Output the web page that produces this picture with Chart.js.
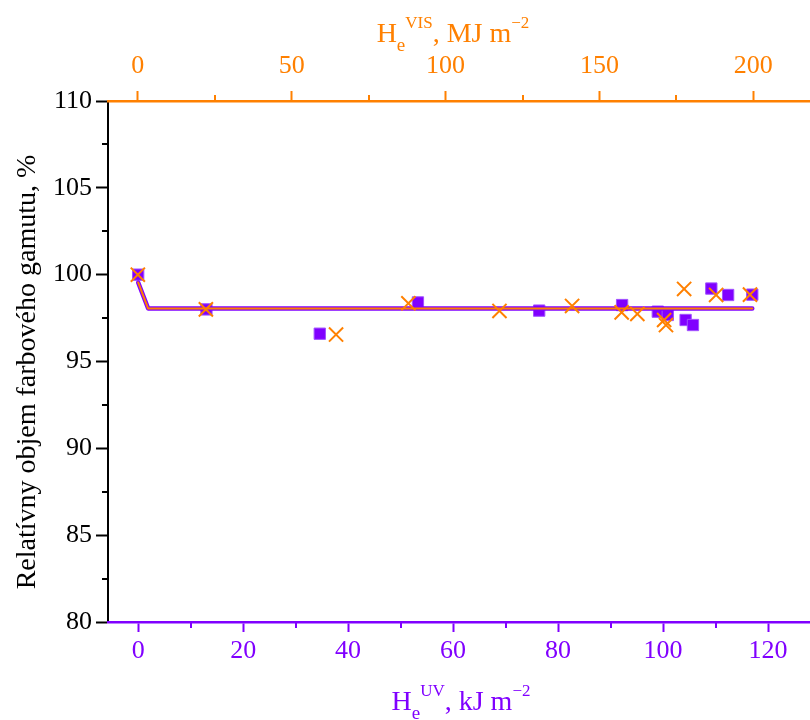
<!DOCTYPE html>
<html><head><meta charset="utf-8">
<script src="https://cdn.jsdelivr.net/npm/chart.js@4.4.0/dist/chart.umd.min.js"></script>
<style>html,body{margin:0;padding:0;background:#fff;overflow:hidden}</style>
</head><body>
<canvas id="c" width="810" height="720"></canvas>
<script>
// ---- data ----
const uvX = [0, 13.0, 34.6, 53.3, 76.4, 92.2, 99.0, 100.9, 104.3, 105.7, 109.2, 112.4, 117.0];
const uvY = [100, 98.0, 96.6, 98.4, 97.93, 98.25, 97.87, 97.68, 97.39, 97.1, 99.2, 98.83, 98.85];
const visX = [0, 22.1, 64.4, 87.9, 117.5, 141.1, 157.2, 162.3, 171.0, 171.6, 177.5, 187.9, 198.9];
const visY = [100, 98.0, 96.55, 98.35, 97.91, 98.2, 97.83, 97.74, 97.39, 97.1, 99.18, 98.83, 98.85];
const fitX = [0, 1.9, 117.0];
const fitY = [99.55, 98.05, 98.05];

const yTicks = [80, 85, 90, 95, 100, 105, 110];
const yMinor = [82.5, 87.5, 92.5, 97.5, 102.5, 107.5];
const uvTicks = [0, 20, 40, 60, 80, 100, 120];
const uvMinor = [10, 30, 50, 70, 90, 110];
const visTicks = [0, 50, 100, 150, 200];
const visMinor = [25, 75, 125, 175];

const yTitle = 'Relatívny objem farbového gamutu, %';
const uvTitle = ['H', 'e', 'UV', ', kJ m', '\u22122'];
const visTitle = ['H', 'e', 'VIS', ', MJ m', '\u22122'];

const PURPLE = '#8000FF';
const ORANGE = '#FF8000';
const FONT = '"Liberation Serif", "Times New Roman", serif';

const pts = (xs, ys) => xs.map((x, i) => ({x: x, y: ys[i]}));
const setTicks = arr => s => { s.ticks = arr.map(v => ({value: v})); };
const fitSize = (prop, val) => s => {
  s[prop] = val;
  s.paddingLeft = 0; s.paddingRight = 0; s.paddingTop = 0; s.paddingBottom = 0;
};

const extras = {
  id: 'extras',
  afterDraw(chart) {
    const ctx = chart.ctx;
    const ca = chart.chartArea;
    const sc = chart.scales;
    ctx.save();
    // minor ticks
    ctx.lineWidth = 2;
    ctx.strokeStyle = '#000';
    yMinor.forEach(v => { const p = Math.round(sc.y.getPixelForValue(v)); ctx.beginPath(); ctx.moveTo(ca.left, p); ctx.lineTo(ca.left - 6, p); ctx.stroke(); });
    ctx.strokeStyle = PURPLE;
    uvMinor.forEach(v => { const p = Math.round(sc.xb.getPixelForValue(v)); ctx.beginPath(); ctx.moveTo(p, ca.bottom); ctx.lineTo(p, ca.bottom + 6); ctx.stroke(); });
    ctx.strokeStyle = ORANGE;
    visMinor.forEach(v => { const p = Math.round(sc.xt.getPixelForValue(v)); ctx.beginPath(); ctx.moveTo(p, ca.top); ctx.lineTo(p, ca.top - 6); ctx.stroke(); });

    // rich axis titles
    const rich = (parts, cx, base, color) => {
      const spec = [[28, 0], [19, 9], [17, -14], [28, 0], [17, -14]];
      let total = 0;
      const w = parts.map((t, i) => { ctx.font = spec[i][0] + 'px ' + FONT; const m = ctx.measureText(t).width; total += m; return m; });
      let x = cx - total / 2;
      ctx.fillStyle = color;
      ctx.textBaseline = 'alphabetic';
      ctx.textAlign = 'left';
      parts.forEach((t, i) => { ctx.font = spec[i][0] + 'px ' + FONT; ctx.fillText(t, x, base + spec[i][1]); x += w[i]; });
    };
    rich(visTitle, 453, 42, ORANGE);
    rich(uvTitle, 461, 710, PURPLE);

    // y title
    ctx.translate(28, 372);
    ctx.rotate(-Math.PI / 2);
    ctx.font = '28px ' + FONT;
    ctx.fillStyle = '#000';
    ctx.textAlign = 'center';
    ctx.textBaseline = 'middle';
    ctx.fillText(yTitle, 0, 0);
    ctx.restore();
  }
};

new Chart(document.getElementById('c'), {
  type: 'scatter',
  data: {
    datasets: [
      { label: 'VIS', data: pts(visX, visY), xAxisID: 'xt', yAxisID: 'y', order: 0,
        pointStyle: 'crossRot', pointRadius: 10, borderColor: ORANGE, borderWidth: 2, backgroundColor: ORANGE, showLine: false },
      { label: 'fit-inner', data: pts(fitX, fitY), xAxisID: 'xb', yAxisID: 'y', order: 1,
        showLine: true, pointRadius: 0, borderColor: ORANGE, borderWidth: 2, borderCapStyle: 'round', borderJoinStyle: 'round', fill: false },
      { label: 'fit-outer', data: pts(fitX, fitY), xAxisID: 'xb', yAxisID: 'y', order: 2,
        showLine: true, pointRadius: 0, borderColor: PURPLE, borderWidth: 4.5, borderCapStyle: 'round', borderJoinStyle: 'round', fill: false },
      { label: 'UV', data: pts(uvX, uvY), xAxisID: 'xb', yAxisID: 'y', order: 3,
        pointStyle: 'rect', pointRadius: 8, backgroundColor: PURPLE, borderColor: '#A050FF', borderWidth: 1, showLine: false }
    ]
  },
  options: {
    responsive: false,
    animation: false,
    devicePixelRatio: 1,
    layout: { padding: 0, autoPadding: false },
    plugins: { legend: { display: false }, tooltip: { enabled: false }, title: { display: false } },
    scales: {
      y: {
        type: 'linear', position: 'left', min: 80, max: 110,
        afterBuildTicks: setTicks(yTicks),
        afterFit: fitSize('width', 108),
        ticks: { color: '#000', font: { family: FONT, size: 26 }, padding: 4, callback: v => String(v) },
        grid: { drawOnChartArea: false, tickLength: 12, tickColor: '#000', tickWidth: 2 },
        border: { display: true, color: '#000', width: 2 }
      },
      xb: {
        type: 'linear', position: 'bottom', min: -5.75, max: 128,
        afterBuildTicks: setTicks(uvTicks),
        afterFit: fitSize('height', 98),
        ticks: { color: PURPLE, font: { family: FONT, size: 26 }, padding: 4, maxRotation: 0, callback: v => String(v) },
        grid: { drawOnChartArea: false, tickLength: 10, tickColor: PURPLE, tickWidth: 2 },
        border: { display: true, color: PURPLE, width: 2.5 }
      },
      xt: {
        type: 'linear', position: 'top', min: -9.7, max: 218.4,
        afterBuildTicks: setTicks(visTicks),
        afterFit: fitSize('height', 101),
        ticks: { color: ORANGE, font: { family: FONT, size: 26 }, padding: 9, maxRotation: 0, callback: v => String(v) },
        grid: { drawOnChartArea: false, tickLength: 10, tickColor: ORANGE, tickWidth: 2 },
        border: { display: true, color: ORANGE, width: 2.5 }
      }
    }
  },
  plugins: [extras]
});
</script>
</body></html>
